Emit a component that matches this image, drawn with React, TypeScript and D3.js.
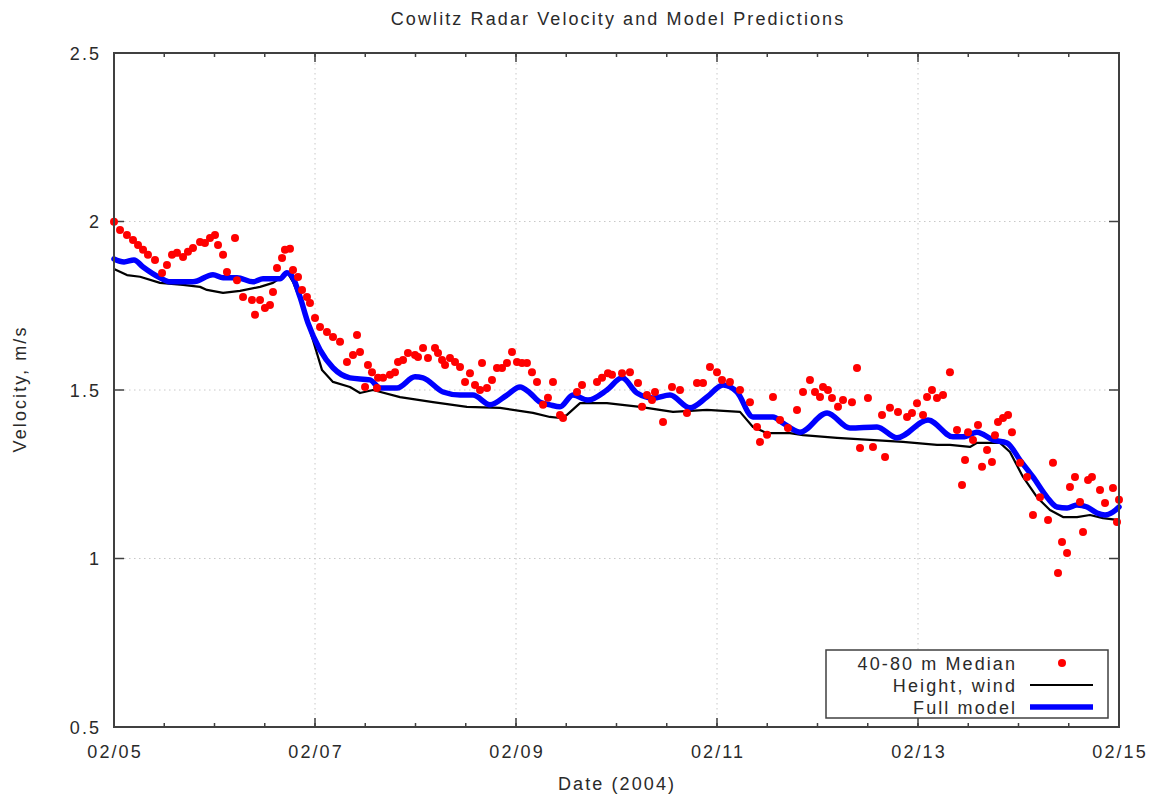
import React from "react";
import * as d3 from "d3";

// ---- data (days since 2004-02-05 00:00 UTC, velocity m/s) ----
const medianDays = [0.0,0.06,0.129,0.189,0.239,0.289,0.338,0.408,0.478,0.527,0.577,0.627,0.687,0.736,0.786,0.856,0.905,0.955,1.005,1.035,1.085,1.124,1.204,1.224,1.284,1.373,1.403,1.453,1.502,1.552,1.582,1.622,1.672,1.701,1.751,1.781,1.831,1.871,1.92,1.95,2.0,2.05,2.119,2.179,2.249,2.318,2.378,2.418,2.448,2.498,2.527,2.567,2.617,2.627,2.677,2.746,2.796,2.826,2.876,2.925,2.995,3.025,3.075,3.124,3.194,3.224,3.264,3.294,3.343,3.393,3.443,3.493,3.542,3.592,3.642,3.662,3.711,3.761,3.811,3.861,3.91,3.96,4.01,4.06,4.109,4.159,4.209,4.269,4.318,4.368,4.438,4.468,4.607,4.657,4.806,4.856,4.915,4.955,5.055,5.134,5.214,5.254,5.303,5.353,5.383,5.463,5.552,5.632,5.701,5.801,5.861,5.93,6.0,6.05,6.129,6.229,6.328,6.398,6.428,6.498,6.557,6.627,6.706,6.796,6.856,6.925,6.975,7.025,7.055,7.104,7.144,7.204,7.254,7.343,7.393,7.423,7.502,7.552,7.642,7.672,7.721,7.801,7.891,7.94,7.99,8.05,8.09,8.139,8.189,8.249,8.318,8.388,8.438,8.468,8.498,8.547,8.597,8.637,8.687,8.736,8.766,8.796,8.846,8.896,8.935,9.015,9.085,9.144,9.214,9.294,9.343,9.393,9.433,9.483,9.512,9.562,9.612,9.642,9.692,9.731,9.811,9.861,9.94,9.98,10.0];
const medianValues = [1.999,1.975,1.96,1.945,1.93,1.916,1.901,1.886,1.847,1.871,1.901,1.907,1.895,1.91,1.921,1.939,1.936,1.951,1.96,1.93,1.901,1.85,1.951,1.826,1.776,1.767,1.723,1.767,1.743,1.752,1.791,1.862,1.892,1.916,1.919,1.856,1.835,1.797,1.776,1.758,1.714,1.687,1.672,1.657,1.643,1.583,1.604,1.663,1.613,1.509,1.574,1.553,1.506,1.536,1.536,1.545,1.553,1.583,1.589,1.61,1.604,1.598,1.625,1.595,1.625,1.61,1.589,1.574,1.595,1.583,1.568,1.524,1.55,1.515,1.5,1.58,1.506,1.53,1.565,1.565,1.58,1.613,1.583,1.58,1.58,1.553,1.524,1.456,1.477,1.524,1.426,1.417,1.494,1.515,1.524,1.536,1.55,1.545,1.55,1.553,1.521,1.45,1.485,1.47,1.494,1.405,1.509,1.5,1.432,1.521,1.521,1.568,1.553,1.53,1.524,1.5,1.464,1.39,1.346,1.367,1.479,1.411,1.387,1.441,1.494,1.53,1.494,1.479,1.509,1.5,1.476,1.45,1.47,1.464,1.565,1.328,1.476,1.331,1.426,1.301,1.447,1.435,1.42,1.432,1.461,1.426,1.479,1.5,1.476,1.485,1.553,1.381,1.218,1.292,1.375,1.352,1.396,1.272,1.322,1.286,1.366,1.405,1.417,1.426,1.375,1.284,1.242,1.129,1.182,1.114,1.284,0.957,1.049,1.016,1.212,1.242,1.168,1.079,1.233,1.242,1.203,1.165,1.209,1.108,1.174];

const heightWindDays = [0,0.129,0.259,0.458,0.687,0.856,0.925,1.085,1.254,1.453,1.582,1.701,1.731,1.781,1.881,1.98,2.07,2.179,2.348,2.448,2.577,2.846,3.174,3.512,3.841,4.169,4.338,4.438,4.507,4.637,4.905,5.234,5.562,5.9,6.229,6.358,6.498,6.726,6.856,7.194,7.522,7.851,8.189,8.318,8.517,8.587,8.816,8.915,9.045,9.184,9.313,9.443,9.582,9.711,9.841,10.0];
const heightWindValues = [1.859,1.841,1.836,1.818,1.812,1.806,1.797,1.788,1.794,1.806,1.818,1.841,1.846,1.821,1.746,1.648,1.559,1.524,1.509,1.491,1.5,1.479,1.464,1.45,1.447,1.432,1.42,1.417,1.426,1.461,1.461,1.45,1.435,1.441,1.435,1.39,1.372,1.372,1.366,1.358,1.352,1.346,1.337,1.337,1.331,1.343,1.343,1.316,1.242,1.182,1.144,1.123,1.123,1.129,1.12,1.114];

const fullModelDays = [0,0.1,0.199,0.289,0.458,0.557,0.786,0.985,1.085,1.224,1.383,1.483,1.652,1.721,1.781,1.851,1.93,2.05,2.179,2.348,2.547,2.647,2.816,2.995,3.075,3.274,3.443,3.572,3.741,3.91,4.04,4.139,4.239,4.338,4.438,4.567,4.716,4.905,5.055,5.204,5.363,5.532,5.731,5.9,6.06,6.199,6.358,6.557,6.657,6.826,7.095,7.323,7.592,7.791,8.1,8.348,8.448,8.587,8.746,8.886,9.015,9.144,9.284,9.383,9.483,9.582,9.682,9.781,9.861,9.94,10.0];
const fullModelValues = [1.889,1.88,1.886,1.865,1.833,1.821,1.821,1.842,1.833,1.833,1.821,1.83,1.83,1.848,1.833,1.776,1.699,1.619,1.566,1.536,1.53,1.506,1.506,1.539,1.536,1.494,1.485,1.485,1.456,1.485,1.509,1.491,1.464,1.456,1.45,1.485,1.47,1.5,1.536,1.491,1.476,1.485,1.447,1.479,1.515,1.494,1.42,1.42,1.402,1.375,1.432,1.387,1.39,1.358,1.411,1.361,1.361,1.375,1.352,1.343,1.292,1.242,1.182,1.153,1.15,1.159,1.153,1.135,1.129,1.138,1.153];

const yTickValues = [0.5, 1, 1.5, 2, 2.5];
const legendLabels = ["40-80 m Median", "Height, wind", "Full model"];
const titleText = "Cowlitz Radar Velocity and Model Predictions";
const xAxisTitle = "Date (2004)";
const yAxisTitle = "Velocity, m/s";

const W = 1155;
const H = 796;
const START = Date.UTC(2004, 1, 5);
const END = Date.UTC(2004, 1, 15);
const DAY = 86400000;
const toDate = (d: number) => new Date(START + d * DAY);

const FONT = "'Liberation Sans', Arial, Helvetica, sans-serif";
const LS = 2.1;
const TXT = "#2a2a2a";
const FRAME = "#404040";

export default function App() {
  const left = 114, right = 1119, top = 53, bottom = 727;
  const x = d3.scaleUtc().domain([new Date(START), new Date(END)]).range([left, right]);
  const y = d3.scaleLinear().domain([0.5, 2.5]).range([bottom, top]);

  const majorX = d3.utcDay.every(2)!.range(new Date(START), new Date(END + 1));
  const minorX = d3.utcHour.every(12)!.range(new Date(START), new Date(END + 1));
  const fmt = d3.utcFormat("%m/%d");

  const median = medianDays.map((d, i) => ({ t: toDate(d), v: medianValues[i] }));
  const hw = heightWindDays.map((d, i) => ({ t: toDate(d), v: heightWindValues[i] }));
  const fm = fullModelDays.map((d, i) => ({ t: toDate(d), v: fullModelValues[i] }));

  const lineHW = d3.line<{ t: Date; v: number }>().x(p => x(p.t)).y(p => y(p.v)).curve(d3.curveLinear);
  const lineFM = d3.line<{ t: Date; v: number }>().x(p => x(p.t)).y(p => y(p.v)).curve(d3.curveMonotoneX);

  const legX0 = 826, legX1 = 1108, legY0 = 650, legY1 = 718;
  const rowY = [663, 685, 707];

  return (
    <svg width={W} height={H} style={{ position: "absolute", left: 0, top: 0, background: "#fff" }}
      fontFamily={FONT}>
      <rect x={0} y={0} width={W} height={H} fill="#fff" />
      {/* grid */}
      <g stroke="#c8c8c8" strokeWidth={1} strokeDasharray="1.5,3.5">
        {majorX.filter(t => +t !== START && +t !== END).map(t => (
          <line key={"gx" + +t} x1={x(t)} x2={x(t)} y1={top} y2={bottom} />
        ))}
        {yTickValues.filter(v => v !== 0.5 && v !== 2.5).map(v => (
          <line key={"gy" + v} x1={left} x2={right} y1={y(v)} y2={y(v)} />
        ))}
      </g>
      {/* ticks */}
      <g stroke={FRAME} strokeWidth={1.5}>
        {minorX.map(t => (
          <g key={"mx" + +t}>
            <line x1={x(t)} x2={x(t)} y1={bottom} y2={bottom - 4} />
            <line x1={x(t)} x2={x(t)} y1={top} y2={top + 4} />
          </g>
        ))}
        {majorX.map(t => (
          <g key={"Mx" + +t}>
            <line x1={x(t)} x2={x(t)} y1={bottom} y2={bottom - 9} />
            <line x1={x(t)} x2={x(t)} y1={top} y2={top + 9} />
          </g>
        ))}
        {yTickValues.map(v => (
          <g key={"ty" + v}>
            <line x1={left} x2={left + 10} y1={y(v)} y2={y(v)} />
            <line x1={right} x2={right - 10} y1={y(v)} y2={y(v)} />
          </g>
        ))}
      </g>
      {/* series */}
      <path d={lineHW(hw) || ""} fill="none" stroke="#000" strokeWidth={2.2} strokeLinejoin="round" />
      <path d={lineFM(fm) || ""} fill="none" stroke="#0000ff" strokeWidth={5.5} strokeLinejoin="round" strokeLinecap="round" />
      <g fill="#ff0000">
        {median.map((p, i) => (
          <circle key={"m" + i} cx={x(p.t)} cy={y(p.v)} r={4} />
        ))}
      </g>
      {/* frame */}
      <rect x={left} y={top} width={right - left} height={bottom - top} fill="none" stroke={FRAME} strokeWidth={2} />
      {/* tick labels */}
      <g fill={TXT} fontSize={18} letterSpacing={LS}>
        {majorX.map(t => (
          <text key={"lx" + +t} x={x(t) + LS / 2} y={758} textAnchor="middle">{fmt(t)}</text>
        ))}
        {yTickValues.map(v => (
          <text key={"ly" + v} x={99 + LS} y={y(v) + 6.5} textAnchor="end">{String(v)}</text>
        ))}
      </g>
      {/* titles */}
      <text x={617 + LS / 2} y={25} textAnchor="middle" fontSize={18} letterSpacing={LS} fill={TXT}>{titleText}</text>
      <text x={616 + LS / 2} y={790} textAnchor="middle" fontSize={18} letterSpacing={LS} fill={TXT}>{xAxisTitle}</text>
      <text transform={`translate(26,${(top + bottom) / 2}) rotate(-90)`} x={LS / 2} textAnchor="middle" fontSize={18} letterSpacing={LS} fill={TXT}>{yAxisTitle}</text>
      {/* legend */}
      <rect x={legX0} y={legY0} width={legX1 - legX0} height={legY1 - legY0} fill="#fff" stroke={FRAME} strokeWidth={1.5} />
      <g fill={TXT} fontSize={18} letterSpacing={LS}>
        {legendLabels.map((l, i) => (
          <text key={"lg" + i} x={1015 + LS} y={rowY[i] + 7} textAnchor="end">{l}</text>
        ))}
      </g>
      <circle cx={1062} cy={rowY[0]} r={4} fill="#ff0000" />
      <line x1={1030} x2={1093} y1={rowY[1]} y2={rowY[1]} stroke="#000" strokeWidth={2.2} />
      <line x1={1030} x2={1093} y1={rowY[2]} y2={rowY[2]} stroke="#0000ff" strokeWidth={5.5} />
    </svg>
  );
}
